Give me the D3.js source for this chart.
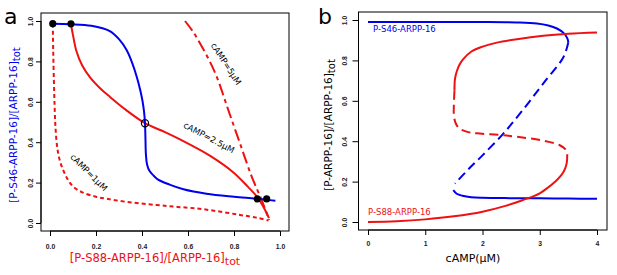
<!DOCTYPE html>
<html>
<head>
<meta charset="utf-8">
<script src="https://cdn.jsdelivr.net/npm/d3@7"></script>
<style>
  body { margin: 0; background: #fff; }
  svg { display: block; font-family: "DejaVu Sans", sans-serif; }
  .tick text { font-size: 6.8px; font-weight: bold; fill: #222; }
</style>
</head>
<body>
<script>
// ---- data, panel a (x = P-S88 fraction, y = P-S46 fraction)
const s46Nullcline = [[0.012,0.986],[0.09,0.984],[0.18,0.976],[0.26,0.95],[0.3,0.91],[0.333,0.856],[0.358,0.79],[0.377,0.724],[0.392,0.66],[0.402,0.605],[0.409,0.55],[0.413,0.494],[0.415,0.42],[0.417,0.34],[0.422,0.29],[0.433,0.257],[0.45,0.235],[0.47,0.215],[0.52,0.19],[0.58,0.167],[0.68,0.145],[0.8,0.13],[0.9,0.12],[0.98,0.11]]
const s88camp25 = [[0.091,0.984],[0.1,0.93],[0.115,0.85],[0.14,0.78],[0.175,0.72],[0.22,0.665],[0.26,0.625],[0.33,0.56],[0.413,0.494],[0.5,0.45],[0.565,0.414],[0.7,0.33],[0.8,0.248],[0.86,0.18],[0.9,0.13],[0.93,0.075],[0.952,0.024]]
const s88camp5 = [[0.587,1.0],[0.62,0.95],[0.652,0.89],[0.69,0.81],[0.725,0.724],[0.775,0.56],[0.826,0.394],[0.877,0.23],[0.92,0.114],[0.953,0.015]]
const s88camp1 = [[0.012,0.986],[0.014,0.85],[0.017,0.7],[0.02,0.58],[0.024,0.47],[0.032,0.37],[0.045,0.3],[0.06,0.255],[0.08,0.21],[0.101,0.18],[0.14,0.152],[0.2,0.13],[0.246,0.12],[0.33,0.105],[0.464,0.089],[0.55,0.08],[0.638,0.072],[0.73,0.058],[0.826,0.04],[0.9,0.026],[0.95,0.012]]
const stableA = [[0.012,0.987],[0.091,0.986],[0.901,0.119],[0.942,0.119]]
const unstableA = [[0.413,0.494]]
const curveLabelsA = [
  {text:'cAMP=5μM', x:0.755, y:0.78, angle:57},
  {text:'cAMP=2.5μM', x:0.685, y:0.41, angle:28},
  {text:'cAMP=1μM', x:0.16, y:0.24, angle:45}
]
const ticksA = [0,0.2,0.4,0.6,0.8,1.0]

// ---- data, panel b (x = cAMP uM, y = fraction)
const s46Upper = [[0,0.99],[1,0.99],[2,0.99],[2.6,0.988],[2.95,0.983],[3.15,0.973],[3.3,0.958],[3.42,0.935],[3.48,0.91],[3.5,0.89]]
const s46Middle = [[3.5,0.89],[3.45,0.84],[3.38,0.8],[3.1,0.7],[2.83,0.6],[2.55,0.5],[2.34,0.43],[2.0,0.33],[1.75,0.26],[1.52,0.19]]
const s46Lower = [[1.49,0.158],[1.55,0.14],[1.65,0.13],[1.8,0.123],[2.0,0.12],[2.5,0.118],[3,0.117],[3.5,0.116],[4,0.115]]
const s88Upper = [[1.51,0.65],[1.52,0.71],[1.55,0.745],[1.6,0.78],[1.66,0.805],[1.8,0.843],[2.0,0.868],[2.25,0.888],[2.6,0.905],[3.06,0.922],[3.5,0.932],[4.0,0.938]]
const s88Middle = [[1.51,0.65],[1.5,0.58],[1.5,0.53],[1.53,0.49],[1.6,0.462],[1.75,0.445],[1.9,0.439],[2.34,0.43],[2.6,0.422],[3.06,0.403],[3.35,0.38],[3.45,0.36],[3.48,0.335]]
const s88Lower = [[3.48,0.335],[3.47,0.29],[3.42,0.25],[3.3,0.208],[3.15,0.172],[3.0,0.142],[2.71,0.109],[2.4,0.08],[2.0,0.051],[1.5,0.028],[1.0,0.013],[0.5,0.004],[0,0.0]]
const ticksBx = [0,1,2,3,4]
const ticksBy = [0,0.2,0.4,0.6,0.8,1.0]

const BLUE = '#0000ee', RED = '#ee1111'

const svg = d3.select('body').append('svg').attr('width',617).attr('height',275)

// ================= panel a =================
const xa = d3.scaleLinear().domain([0,1]).range([50,280])
const ya = d3.scaleLinear().domain([0,1]).range([223,21])
const ga = svg.append('g')

ga.append('rect').attr('x',41).attr('y',13).attr('width',248).attr('height',218)
  .attr('fill','none').attr('stroke','#000').attr('stroke-width',1)

ga.append('g').attr('transform','translate(0,231)')
  .call(d3.axisBottom(xa).tickValues(ticksA).tickFormat(d3.format('.1f')).tickSize(5).tickSizeOuter(0))
  .call(a => a.select('.domain').attr('d','M50,0H280'))
  .selectAll('text').attr('y',13)
ga.append('g').attr('transform','translate(41,0)')
  .call(d3.axisLeft(ya).tickValues(ticksA).tickFormat(d3.format('.1f')).tickSize(5).tickSizeOuter(0))
  .call(a => a.select('.domain').attr('d','M0,223V21'))
  .selectAll('text').attr('transform','rotate(-90)').attr('x',0).attr('y',-8).attr('dy','0').attr('text-anchor','middle')

const lineA = d3.line().x(d => xa(d[0])).y(d => ya(d[1])).curve(d3.curveCatmullRom)
ga.append('path').datum(s88camp1).attr('d',lineA).attr('fill','none').attr('stroke',RED)
  .attr('stroke-width',2).attr('stroke-dasharray','4,3')
ga.append('path').datum(s88camp5).attr('d',lineA).attr('fill','none').attr('stroke',RED)
  .attr('stroke-width',2).attr('stroke-dasharray','12,4,4,4')
ga.append('path').datum(s88camp25).attr('d',lineA).attr('fill','none').attr('stroke',RED).attr('stroke-width',2)
ga.append('path').datum(s46Nullcline).attr('d',lineA).attr('fill','none').attr('stroke',BLUE).attr('stroke-width',2)

ga.selectAll('circle.st').data(stableA).join('circle').attr('class','st')
  .attr('cx',d => xa(d[0])).attr('cy',d => ya(d[1])).attr('r',3.6).attr('fill','#000')
ga.selectAll('circle.un').data(unstableA).join('circle').attr('class','un')
  .attr('cx',d => xa(d[0])).attr('cy',d => ya(d[1])).attr('r',3.6).attr('fill','none').attr('stroke','#000').attr('stroke-width',1.2)

ga.selectAll('text.cl').data(curveLabelsA).join('text').attr('class','cl')
  .attr('transform',d => `translate(${xa(d.x)},${ya(d.y)}) rotate(${d.angle})`)
  .attr('text-anchor','middle').attr('font-size',8.5).attr('fill','#000').text(d => d.text)

ga.append('text').attr('x',4).attr('y',24).attr('font-size',22).text('a')

const ylabA = ga.append('text').attr('transform','translate(17,125) rotate(-90)')
  .attr('text-anchor','middle').attr('font-size',10.5).attr('fill',BLUE)
ylabA.append('tspan').text('[P-S46-ARPP-16]/[ARPP-16]')
ylabA.append('tspan').attr('dy',3).attr('font-size',10).text('tot')

const xlabA = ga.append('text').attr('x',155).attr('y',262)
  .attr('text-anchor','middle').attr('font-size',11.5).attr('fill',RED)
xlabA.append('tspan').text('[P-S88-ARPP-16]/[ARPP-16]')
xlabA.append('tspan').attr('dy',3).attr('font-size',11).text('tot')

// ================= panel b =================
const xb = d3.scaleLinear().domain([0,4]).range([368,597])
const yb = d3.scaleLinear().domain([0,1]).range([222,20])
const gb = svg.append('g')

gb.append('rect').attr('x',358.5).attr('y',12).attr('width',248.5).attr('height',218)
  .attr('fill','none').attr('stroke','#000').attr('stroke-width',1)

gb.append('g').attr('transform','translate(0,230)')
  .call(d3.axisBottom(xb).tickValues(ticksBx).tickFormat(d3.format('d')).tickSize(5).tickSizeOuter(0))
  .call(a => a.select('.domain').attr('d','M368,0H597'))
  .selectAll('text').attr('y',11.5)
gb.append('g').attr('transform','translate(358.5,0)')
  .call(d3.axisLeft(yb).tickValues(ticksBy).tickFormat(d3.format('.1f')).tickSize(6).tickSizeOuter(0))
  .call(a => a.select('.domain').attr('d','M0,222V20'))
  .selectAll('text').attr('transform','rotate(-90)').attr('x',0).attr('y',-12).attr('dy','0').attr('text-anchor','middle')

const lineB = d3.line().x(d => xb(d[0])).y(d => yb(d[1])).curve(d3.curveCatmullRom)
const solidB = [[s46Upper,BLUE],[s46Lower,BLUE],[s88Upper,RED],[s88Lower,RED]]
const dashB = [[s46Middle,BLUE],[s88Middle,RED]]
solidB.forEach(([pts,c]) => {
  gb.append('path').datum(pts).attr('d',lineB).attr('fill','none').attr('stroke',c).attr('stroke-width',2)
})
dashB.forEach(([pts,c]) => {
  gb.append('path').datum(pts).attr('d',lineB).attr('fill','none').attr('stroke',c)
    .attr('stroke-width',2).attr('stroke-dasharray','9,5')
})

gb.append('text').attr('x',373).attr('y',32).attr('font-size',8.5).attr('fill',BLUE).text('P-S46-ARPP-16')
gb.append('text').attr('x',368).attr('y',215).attr('font-size',8.5).attr('fill',RED).text('P-S88-ARPP-16')

gb.append('text').attr('x',318).attr('y',24).attr('font-size',22).text('b')

const ylabB = gb.append('text').attr('transform','translate(332,125) rotate(-90)')
  .attr('text-anchor','middle').attr('font-size',10.5).attr('fill','#000')
ylabB.append('tspan').text('[P-ARPP-16]/[ARPP-16]')
ylabB.append('tspan').attr('dy',3).attr('font-size',10).text('tot')

gb.append('text').attr('x',473).attr('y',262).attr('text-anchor','middle').attr('font-size',11).text('cAMP(μM)')
</script>
</body>
</html>
